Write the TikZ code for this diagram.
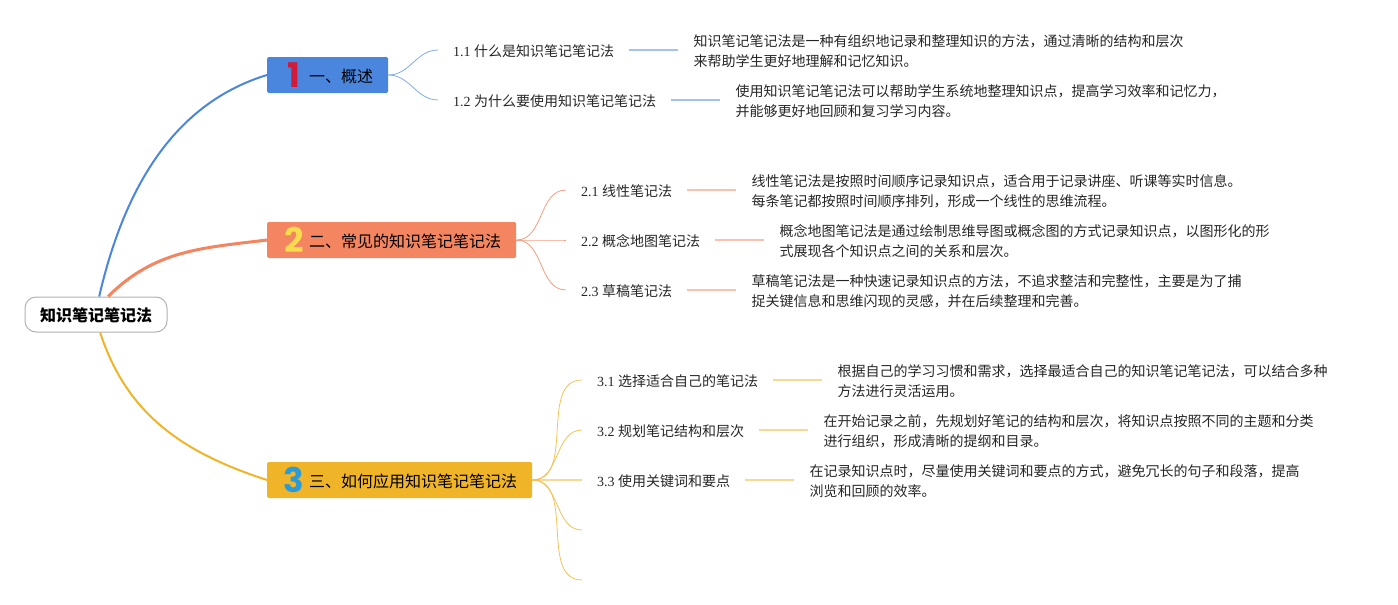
\documentclass[tikz,border=0pt]{standalone}
\usepackage{fontspec}
\setmainfont{Noto Sans CJK SC}
\newfontfamily\latinfont{Liberation Serif}
\newfontfamily\numfont{Poppins}
\usetikzlibrary{positioning}
\definecolor{blueline}{HTML}{4A86DD}
\definecolor{orangeline}{HTML}{F38560}
\definecolor{yellowline}{HTML}{F0B429}
\definecolor{numred}{HTML}{D01C3A}
\definecolor{numyellow}{HTML}{F9DB4E}
\definecolor{numblue}{HTML}{2A9BD6}
\tikzset{
  rootbox/.style={draw=black!30, fill=white, rounded corners=11pt, line width=1pt, minimum width=142pt, minimum height=35pt, text height=16.4pt, text depth=2pt, inner ysep=0pt, font=\fontsize{16}{16}\selectfont\bfseries},
  topicbox/.style={rounded corners=1.5pt, minimum height=36pt, inner xsep=15pt, inner ysep=0pt, text height=16.4pt, text depth=2pt, font=\fontsize{16}{16}\selectfont},
  numicon/.style={inner sep=0pt, font=\fontsize{34}{34}\selectfont\numfont\bfseries},
  subbox/.style={anchor=west, inner xsep=15pt, inner ysep=1pt, text height=14.6pt, text depth=2pt, text=black!85, font=\fontsize{14}{14}\selectfont},
  bodybox/.style={align=left, inner xsep=15pt, inner ysep=0pt, yshift=-1pt, text=black!85, font=\fontsize{14}{20}\selectfont},
  trunk/.style={line width=2pt},
  twig/.style={line width=0.8pt, out=0, in=180},
  leaf/.style={line width=1.5pt, opacity=0.5},
}
\begin{document}
\begin{tikzpicture}[x=1pt,y=1pt]
  \useasboundingbox (0,0) rectangle (1398,-605);

  % root and main topics
  \node[rootbox] (root) at (96,-314.5) {知识笔记笔记法};
  \node[topicbox, fill=blueline, anchor=west] (topic1) at (267,-75) {\hspace{27pt}一、概述};
  \node[topicbox, fill=orangeline, anchor=west] (topic2) at (267,-240) {\hspace{27pt}二、常见的知识笔记笔记法};
  \node[topicbox, fill=yellowline, anchor=west] (topic3) at (267,-480) {\hspace{27pt}三、如何应用知识笔记笔记法};
  \node[numicon, text=numred] (num1) at (294,-75) {1};
  \node[numicon, text=numyellow] (num2) at (294,-240) {2};
  \node[numicon, text=numblue] (num3) at (294,-480) {3};

  % first branch
  \node[subbox] (sub11) at (438,-50) {{\latinfont 1.1 }什么是知识笔记笔记法};
  \node[subbox] (sub12) at (438,-100) {{\latinfont 1.2 }为什么要使用知识笔记笔记法};
  \node[bodybox, right=49pt of sub11] (body11) {知识笔记笔记法是一种有组织地记录和整理知识的方法，通过清晰的结构和层次\\来帮助学生更好地理解和记忆知识。};
  \node[bodybox, right=49pt of sub12] (body12) {使用知识笔记笔记法可以帮助学生系统地整理知识点，提高学习效率和记忆力，\\并能够更好地回顾和复习学习内容。};

  % second branch
  \node[subbox] (sub21) at (566,-190) {{\latinfont 2.1 }线性笔记法};
  \node[subbox] (sub22) at (566,-240) {{\latinfont 2.2 }概念地图笔记法};
  \node[subbox] (sub23) at (566,-290) {{\latinfont 2.3 }草稿笔记法};
  \node[bodybox, right=49pt of sub21] (body21) {线性笔记法是按照时间顺序记录知识点，适合用于记录讲座、听课等实时信息。\\每条笔记都按照时间顺序排列，形成一个线性的思维流程。};
  \node[bodybox, right=49pt of sub22] (body22) {概念地图笔记法是通过绘制思维导图或概念图的方式记录知识点，以图形化的形\\式展现各个知识点之间的关系和层次。};
  \node[bodybox, right=49pt of sub23] (body23) {草稿笔记法是一种快速记录知识点的方法，不追求整洁和完整性，主要是为了捕\\捉关键信息和思维闪现的灵感，并在后续整理和完善。};

  % third branch
  \node[subbox] (sub31) at (582,-380) {{\latinfont 3.1 }选择适合自己的笔记法};
  \node[subbox] (sub32) at (582,-430) {{\latinfont 3.2 }规划笔记结构和层次};
  \node[subbox] (sub33) at (582,-480) {{\latinfont 3.3 }使用关键词和要点};
  \coordinate (sub34) at (582,-530);
  \coordinate (sub35) at (582,-580);
  \node[bodybox, right=49pt of sub31] (body31) {根据自己的学习习惯和需求，选择最适合自己的知识笔记笔记法，可以结合多种\\方法进行灵活运用。};
  \node[bodybox, right=49pt of sub32] (body32) {在开始记录之前，先规划好笔记的结构和层次，将知识点按照不同的主题和分类\\进行组织，形成清晰的提纲和目录。};
  \node[bodybox, right=49pt of sub33] (body33) {在记录知识点时，尽量使用关键词和要点的方式，避免冗长的句子和段落，提高\\浏览和回顾的效率。};

  % trunks from the root
  \draw[trunk, blueline] (root.80) to[out=77,in=197,out looseness=1.05,in looseness=0.88] (topic1.west);
  \draw[trunk, orangeline, line width=3pt] (root.56) to[out=45,in=187] (topic2.west);
  \draw[trunk, yellowline] (root.-77) to[out=-72,in=162] (topic3.west);

  % twigs and leaves
  \foreach \i in {1,2} {
    \draw[twig, blueline!70] (topic1.east) to (sub1\i.west);
    \draw[leaf, blueline] (sub1\i.east) -- (sub1\i.east -| body1\i.west);
  }
  \foreach \i in {1,2,3} {
    \draw[twig, orangeline!80] (topic2.east) to (sub2\i.west);
    \draw[leaf, orangeline] (sub2\i.east) -- (sub2\i.east -| body2\i.west);
  }
  \foreach \i in {1,2,3} {
    \draw[leaf, yellowline] (sub3\i.east) -- (sub3\i.east -| body3\i.west);
  }
  \foreach \i in {1,2} {
    \draw[twig, yellowline!80] (topic3.east) to (sub3\i.west);
  }
  \draw[leaf, yellowline] (topic3.east) -- (sub33.west);
  \foreach \i in {4,5} {
    \draw[twig, yellowline!80] (topic3.east) to (sub3\i);
  }
\end{tikzpicture}
\end{document}
